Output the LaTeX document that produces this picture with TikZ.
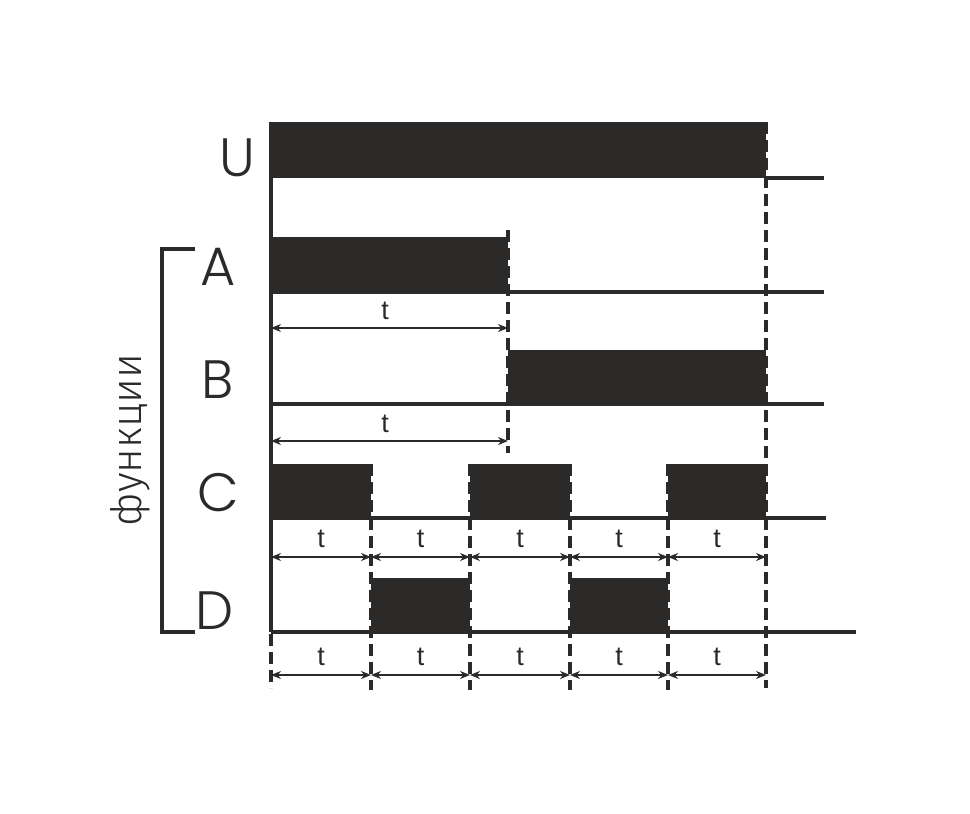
\documentclass[tikz,border=0pt]{standalone}
\usepackage{fontspec}
\newfontfamily\letterfont{Poppins Light}
\newfontfamily\cyrfont{Fira Sans Light}
\newfontfamily\tfont{Liberation Sans}
\usetikzlibrary{arrows.meta, calc}
\usetikzlibrary{positioning}

\definecolor{ink}{HTML}{2B2A29}
\tikzset{
  level/.style={line width=3.8pt, draw=ink},
  pulse/.style={fill=ink},
  guide/.style={line width=3.2pt, draw=ink, dash pattern=on 12pt off 6pt},
  span/.style={line width=2.5pt, draw=ink, {Stealth[length=10pt,width=8pt]}-{Stealth[length=10pt,width=8pt]}},
  sig/.style={text=ink, font=\letterfont\fontsize{54}{60}\selectfont, inner sep=0pt},
  dur/.style={text=ink, font=\tfont\fontsize{27}{30}\selectfont, inner sep=0pt},
}

\begin{document}
\begin{tikzpicture}[x=1pt, y=-1pt]
  \useasboundingbox (0,0) rectangle (970,814);

  % time marks
  \foreach \i/\x in {0/271, 1/371, 2/470, 3/570, 4/668, 5/766}
    \coordinate (m\i) at (\x,0);
  \coordinate (mA) at (508,0);

  % pulses
  \fill[pulse] (271,122) rectangle (766,178);
  \fill[pulse] (271,237) rectangle (508,292);
  \fill[pulse] (508,350) rectangle (766,404);
  \foreach \a/\b in {271/371, 470/570, 668/766}
    \fill[pulse] (\a,464) rectangle (\b,518);
  \foreach \a/\b in {371/470, 570/668}
    \fill[pulse] (\a,578) rectangle (\b,632);

  % levels
  \draw[level] (271,122) -- (271,632);
  \draw[level] (766,178) -- (824,178);
  \draw[level] (271,292) -- (824,292);
  \draw[level] (271,404) -- (824,404);
  \draw[level] (271,518) -- (826,518);
  \draw[level] (271,632) -- (856,632);

  % guides
  \draw[guide] (mA |- 0,230) -- (mA |- 0,453);
  \draw[guide] (m5 |- 0,122) -- (m5 |- 0,688);
  \draw[guide] (m0 |- 0,634) -- (m0 |- 0,688);
  \foreach \i in {1,...,4}
    \draw[guide] (m\i |- 0,464) -- (m\i |- 0,690);

  % durations
  \draw[span] (m0 |- 0,328) -- (mA |- 0,328);
  \node[dur] (tA) at (385,311) {t};
  \draw[span] (m0 |- 0,441) -- (mA |- 0,441);
  \node[dur] (tB) at (385,424) {t};
  \foreach \i [evaluate=\i as \j using int(\i+1)] in {0,...,4} {
    \draw[span] (m\i |- 0,557) -- (m\j |- 0,557);
    \node[dur] (tC\i) at ($(m\i |- 0,539)!0.5!(m\j |- 0,539)$) {t};
    \draw[span] (m\i |- 0,675) -- (m\j |- 0,675);
    \node[dur] (tD\i) at ($(m\i |- 0,657)!0.5!(m\j |- 0,657)$) {t};
  }

  % signal names
  \node[sig] (U) at (237,158) {U};
  \node[sig] (A) at (218,267) {A};
  \node[sig] (B) at (218,380) {B};
  \node[sig] (C) at (218,493) {C};
  \node[sig] (D) at (215,611) {D};

  % bracket
  \draw[level] (195,249) -- (162,249) -- (162,632) -- (195,632);
  \node[text=ink, rotate=90, font=\cyrfont\fontsize{42}{48}\selectfont, inner sep=0pt]
    (func) at (130,440) {функции};
\end{tikzpicture}
\end{document}
